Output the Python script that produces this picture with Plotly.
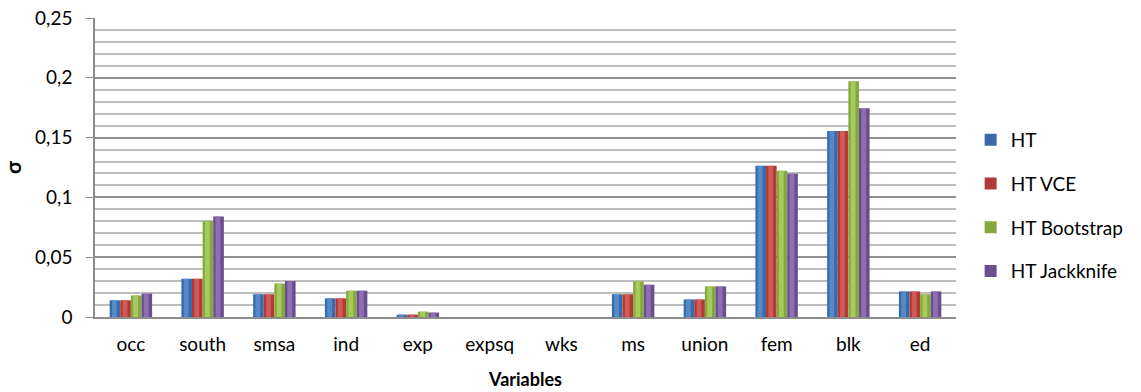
import plotly.graph_objects as go

# Standard errors (σ) of each variable under four variance estimators
variables = ["occ", "south", "smsa", "ind", "exp", "expsq", "wks",
             "ms", "union", "fem", "blk", "ed"]
ht = [0.014, 0.032, 0.019, 0.0156, 0.002, 0.0, 0.0,
      0.019, 0.0147, 0.1264, 0.1556, 0.0214]
ht_vce = [0.014, 0.032, 0.019, 0.0156, 0.002, 0.0, 0.0,
          0.019, 0.0147, 0.1264, 0.1556, 0.0214]
ht_bootstrap = [0.018, 0.080, 0.028, 0.022, 0.0045, 0.0, 0.0,
                0.0297, 0.0256, 0.1222, 0.1972, 0.019]
ht_jackknife = [0.0195, 0.084, 0.030, 0.022, 0.0037, 0.0, 0.0,
                0.027, 0.0256, 0.1198, 0.1745, 0.0214]

series = [
    ("HT", ht, "#3a6aa8", "#5b8fd0"),
    ("HT VCE", ht_vce, "#b03a36", "#d8605c"),
    ("HT Bootstrap", ht_bootstrap, "#86a83e", "#acd060"),
    ("HT Jackknife", ht_jackknife, "#6a4e8e", "#9377b8"),
]

FONT = "Lato"
bar_w = 0.148                      # width of one bar in category units
group_w = bar_w * len(series)

fig = go.Figure()
for i, (name, vals, dark, light) in enumerate(series):
    off = -group_w / 2 + i * bar_w
    # base bar (darker edges)
    fig.add_trace(go.Bar(
        x=variables, y=vals, name=name, width=bar_w, offset=off,
        marker=dict(color=dark, line=dict(width=0)),
        legendgroup=name,
    ))
    # lighter centre strip for a shaded, rounded look
    fig.add_trace(go.Bar(
        x=variables, y=vals, width=bar_w * 0.45, offset=off + bar_w * 0.22,
        marker=dict(color=light, line=dict(width=0), opacity=0.85),
        showlegend=False, hoverinfo="skip", legendgroup=name,
    ))

fig.update_layout(
    width=1141, height=392,
    margin=dict(l=95, r=177, t=18, b=75),
    barmode="overlay",
    separators=",.",
    plot_bgcolor="white",
    paper_bgcolor="white",
    font=dict(family=FONT, size=19, color="#000000"),
    legend=dict(
        x=1.017, y=0.373, xanchor="left", yanchor="middle",
        font=dict(family=FONT, size=19, color="#000000"),
        tracegroupgap=16,
        itemwidth=30,
    ),
    xaxis=dict(
        automargin=False,
        showline=True, linecolor="#8c8c8c", linewidth=2,
        showgrid=False, ticks="",
        ticklabelstandoff=9,
        title=dict(text="<b>Variables</b>", font=dict(size=18), standoff=20),
        tickfont=dict(size=19),
    ),
    yaxis=dict(
        automargin=False,
        range=[0, 0.25], dtick=0.05, tickformat="",
        showline=True, linecolor="#8c8c8c", linewidth=1.5,
        ticks="outside", ticklen=7, tickcolor="#8c8c8c",
        ticklabelstandoff=10,
        showgrid=True, gridcolor="#8f8f8f", gridwidth=1.5,
        zeroline=False,
        minor=dict(dtick=0.01, showgrid=True, gridcolor="#bdbdbd", gridwidth=1.5),
        tickfont=dict(size=19),
        title=dict(text="<b>σ</b>", font=dict(size=21), standoff=12),
    ),
)

fig.write_html("out.html")
